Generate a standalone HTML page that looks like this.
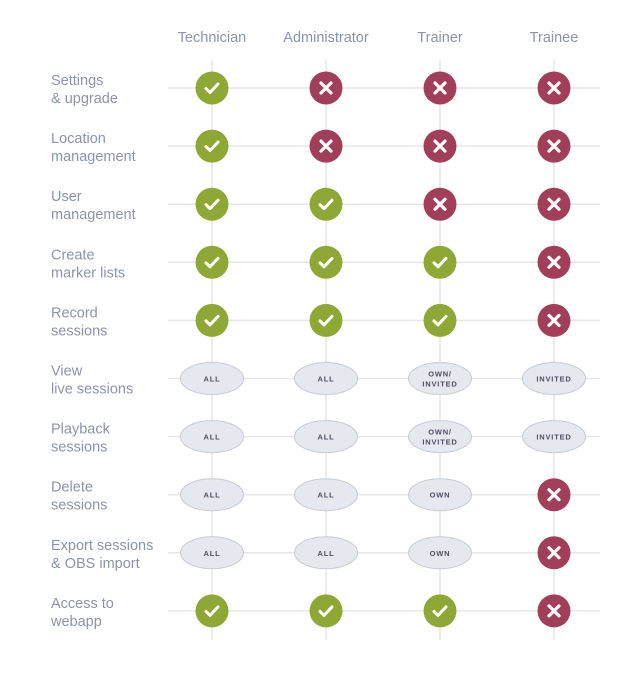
<!DOCTYPE html>
<html><head><meta charset="utf-8"><style>
body{margin:0;background:#fff;width:641px;height:672px;overflow:hidden;font-family:"Liberation Sans",sans-serif}
</style></head><body>
<svg id="c" width="641" height="672"></svg>
<script>
const roles=["Technician","Administrator","Trainer","Trainee"];
const features=[["Settings","& upgrade"],["Location","management"],["User","management"],["Create","marker lists"],["Record","sessions"],["View","live sessions"],["Playback","sessions"],["Delete","sessions"],["Export sessions","& OBS import"],["Access to","webapp"]];
const access=[
["Y","N","N","N"],["Y","N","N","N"],["Y","Y","N","N"],["Y","Y","Y","N"],["Y","Y","Y","N"],
["ALL","ALL","OWN/|INVITED","INVITED"],["ALL","ALL","OWN/|INVITED","INVITED"],
["ALL","ALL","OWN","N"],["ALL","ALL","OWN","N"],["Y","Y","Y","N"]];
const colX=i=>212+i*114;
const rowY=j=>88+j*58.1;
const svg=document.getElementById('c');const NS='http://www.w3.org/2000/svg';
function mk(t,a,p){const e=document.createElementNS(NS,t);for(const k in a)e.setAttribute(k,a[k]);(p||svg).appendChild(e);return e;}
roles.forEach((r,i)=>{const l=mk('line',{x1:colX(i),x2:colX(i),y1:60,y2:640,stroke:'#e6e6e8','stroke-width':1.5});

const t=mk('text',{x:colX(i),y:42,'text-anchor':'middle','font-size':14.5,fill:'#8a93a8'});t.textContent=r;
});
features.forEach((f,j)=>{const y=rowY(j);
const l=mk('line',{x1:168,x2:600,y1:y,y2:y,stroke:'#e6e6e8','stroke-width':1.5});

const t=mk('text',{x:51,y:y-3,'font-size':14.5,fill:'#8a93a8'});

f.forEach((s,k)=>{const ts=mk('tspan',{x:51,dy:k?18:0},t);ts.textContent=s;});});
access.forEach((row,j)=>row.forEach((v,i)=>{const x=colX(i),y=rowY(j);
const g=mk('g',{});
if(v==='Y'||v==='N'){
 mk('circle',{cx:x,cy:y,r:16.5,fill:v==='Y'?'#8fa735':'#a13f5b'},g);
 if(v==='Y')mk('path',{d:`M${x-6} ${y+0.5} L${x-2} ${y+4.5} L${x+6} ${y-4}`,stroke:'#fff','stroke-width':3,fill:'none','stroke-linecap':'round','stroke-linejoin':'round'},g);
 else mk('path',{d:`M${x-5} ${y-5} L${x+5} ${y+5} M${x+5} ${y-5} L${x-5} ${y+5}`,stroke:'#fff','stroke-width':3.2,'stroke-linecap':'round'},g);
 
}else{
 mk('ellipse',{cx:x,cy:y,rx:31.5,ry:16,fill:'#e6e8ef',stroke:'#c8cbd3','stroke-width':1},g);
 const parts=v.split('|');
 parts.forEach((p,k)=>{const t=mk('text',{x:x,y:y+3-(parts.length-1)*5+k*10,'text-anchor':'middle','font-size':7.5,'font-weight':'bold','letter-spacing':'0.8',fill:'#4b5060'},g);t.textContent=p;});
 
}
}));
</script>
</body></html>
